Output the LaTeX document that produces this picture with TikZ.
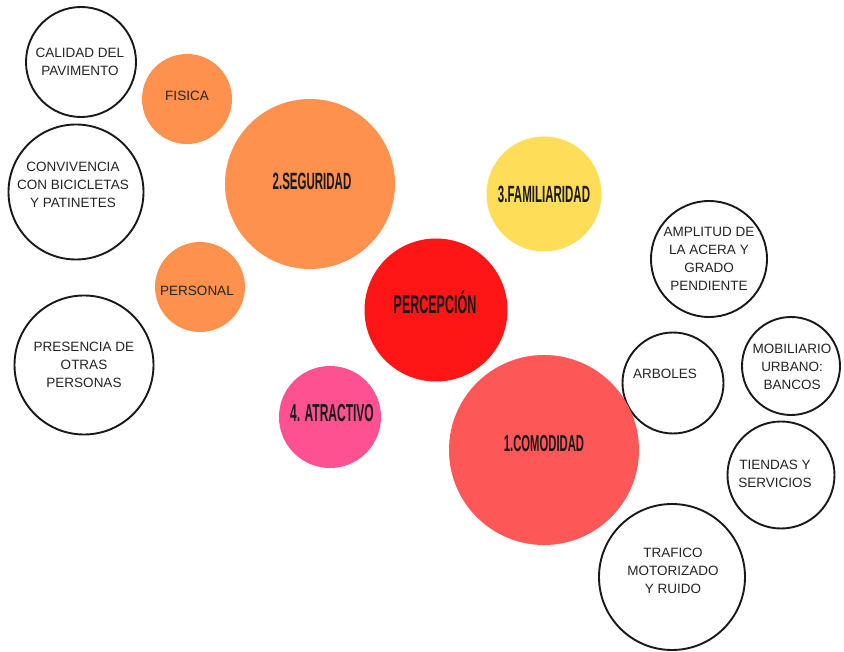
\documentclass[tikz,border=0pt]{standalone}
\usepackage{fontspec}
\setmainfont{Liberation Sans}
\definecolor{corange}{HTML}{FE914D}
\definecolor{cyellow}{HTML}{FEDD59}
\definecolor{cred}{HTML}{FE1616}
\definecolor{cpink}{HTML}{FE5191}
\definecolor{ccoral}{HTML}{FE5757}
\definecolor{ctxt}{HTML}{242424}
\newcommand{\ttltext}[2]{\scalebox{0.49}[1]{\fontsize{#1}{#1}\selectfont\bfseries #2}}
\tikzset{
  wcirc/.style={circle, draw=black!90, line width=1.9pt, fill=white, minimum size=#1, inner sep=0pt},
  fcirc/.style={circle, draw=none, minimum size=#1, inner sep=0pt},
  smalltxt/.style={text=ctxt, font=\fontsize{13.5}{18}\selectfont, align=center, inner sep=0pt},
  titletxt/.style={text=black!90, inner sep=0pt},
}
\begin{document}
\begin{tikzpicture}[x=1pt,y=-1pt]
\useasboundingbox[fill=white] (0,0) rectangle (844,652);
% white circles
\node[wcirc=110] (calidad) at (81,62) {};
\node[wcirc=135] (convivencia) at (76,192) {};
\node[wcirc=139] (presencia) at (84,365) {};
\node[wcirc=116] (amplitud) at (709,259) {};
\node[wcirc=101] (arboles) at (673,383) {};
\node[wcirc=98] (mobiliario) at (791,366) {};
\node[wcirc=107] (tiendas) at (781,475) {};
\node[wcirc=146] (trafico) at (672,577) {};
% coloured circles
\node[fcirc=90, fill=corange] (fisica) at (187,99) {};
\node[fcirc=170, fill=corange] (seguridad) at (310,184) {};
\node[fcirc=90, fill=corange] (personal) at (200,287) {};
\node[fcirc=115, fill=cyellow] (familiaridad) at (544,194) {};
\node[fcirc=143, fill=cred] (percepcion) at (436,310) {};
\node[fcirc=102, fill=cpink] (atractivo) at (330,417) {};
\node[fcirc=190, fill=ccoral] (comodidad) at (544,450) {};
% small texts
\node[smalltxt] (tcalidad) at (80,62) {CALIDAD DEL\\PAVIMENTO};
\node[smalltxt] (tconv) at (73,185) {CONVIVENCIA\\CON BICICLETAS\\Y PATINETES};
\node[smalltxt] (tpres) at (84,365) {PRESENCIA DE\\OTRAS\\PERSONAS};
\node[smalltxt] (tampl) at (709,259) {AMPLITUD DE\\LA ACERA Y\\GRADO\\PENDIENTE};
\node[smalltxt] (tarb) at (665,374) {ARBOLES};
\node[smalltxt] (tmob) at (792,367) {MOBILIARIO\\URBANO:\\BANCOS};
\node[smalltxt] (ttien) at (775,474) {TIENDAS Y\\SERVICIOS};
\node[smalltxt] (ttraf) at (673,571) {TRAFICO\\MOTORIZADO\\Y RUIDO};
\node[smalltxt] (tfis) at (187,96) {FISICA};
\node[smalltxt] (tpers) at (197,291) {PERSONAL};
% titles
\node[titletxt] (tseg) at (312,181) {\ttltext{23.5}{2.SEGURIDAD}};
\node[titletxt] (tfam) at (544,194) {\ttltext{23.5}{3.FAMILIARIDAD}};
\node[titletxt] (tperc) at (435,302) {\ttltext{25.5}{PERCEPCIÓN}};
\node[titletxt] (tatr) at (332,413) {\ttltext{24.5}{4. ATRACTIVO}};
\node[titletxt] (tcom) at (544,444) {\ttltext{23}{1.COMODIDAD}};
\end{tikzpicture}
\end{document}
